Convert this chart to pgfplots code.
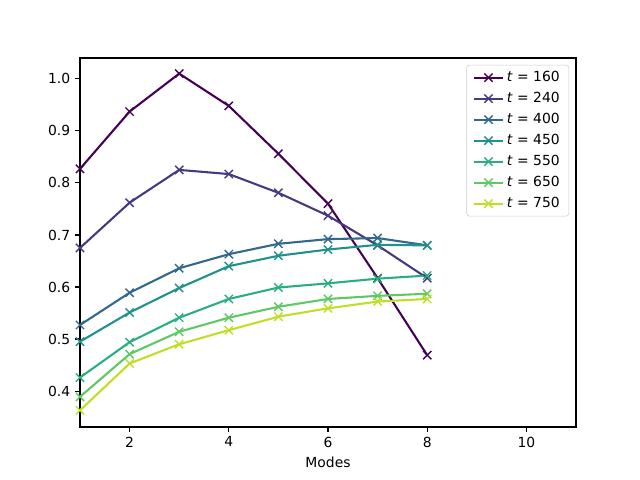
\documentclass[border=0pt]{standalone}
\usepackage{fontspec}
\setmainfont{DejaVu Sans}
\usepackage{pgfplots}
\pgfplotsset{compat=1.18}
\definecolor{c1}{HTML}{440154}
\definecolor{c2}{HTML}{443983}
\definecolor{c3}{HTML}{31688E}
\definecolor{c4}{HTML}{21918C}
\definecolor{c5}{HTML}{29AF7F}
\definecolor{c6}{HTML}{5EC962}
\definecolor{c7}{HTML}{BDDF26}
\begin{document}
\begin{tikzpicture}
\useasboundingbox (-57.6pt,-38.16pt) rectangle (403.2pt,307.44pt);
\begin{axis}[
  at={(0pt,0pt)}, anchor=south west,
  scale only axis, width=357.12pt, height=265.68pt,
  xmin=1, xmax=11, ymin=0.331, ymax=1.040,
  xtick={2,4,6,8,10}, ytick={0.4,0.5,0.6,0.7,0.8,0.9,1.0},
  yticklabel style={/pgf/number format/.cd,fixed,fixed zerofill,precision=1},
  /pgf/number format/assume math mode=true,
  tick align=outside, xtick pos=lower, ytick pos=left,
  major tick length=3.5pt,
  every tick/.style={black, line width=0.8pt},
  axis line style={line width=0.8pt},
  ticklabel style={font=\fontsize{10}{12}\selectfont},
  xlabel={Modes}, xlabel style={font=\fontsize{10}{12}\selectfont, yshift=0pt},
  every axis plot/.append style={line width=1.5pt, mark=x, mark size=4.2pt, mark options={line width=1pt, solid}},
  legend style={at={(1,1)}, anchor=north east, xshift=-5pt, yshift=-5pt,
    draw=black!20, rounded corners=2pt, fill=white, fill opacity=0.8, text opacity=1,
    font=\fontsize{10}{12}\selectfont, row sep=2.2pt, inner ysep=2.5pt, inner xsep=4.5pt,
    nodes={inner sep=2pt}},
  legend cell align=left,
  legend image code/.code={\draw[mark repeat=2,mark phase=2,#1] plot coordinates {(0pt,0pt) (10.5pt,0pt) (21pt,0pt)};},
]
\addplot[c1] coordinates {(1,0.827)(2,0.937)(3,1.010)(4,0.948)(5,0.856)(6,0.760)(7,0.617)(8,0.469)};
\addlegendentry{\textit{t} = 160}
\addplot[c2] coordinates {(1,0.675)(2,0.762)(3,0.825)(4,0.817)(5,0.781)(6,0.737)(7,0.680)(8,0.617)};
\addlegendentry{\textit{t} = 240}
\addplot[c3] coordinates {(1,0.527)(2,0.589)(3,0.636)(4,0.663)(5,0.683)(6,0.692)(7,0.694)(8,0.680)};
\addlegendentry{\textit{t} = 400}
\addplot[c4] coordinates {(1,0.495)(2,0.551)(3,0.598)(4,0.640)(5,0.660)(6,0.672)(7,0.681)(8,0.680)};
\addlegendentry{\textit{t} = 450}
\addplot[c5] coordinates {(1,0.426)(2,0.494)(3,0.541)(4,0.577)(5,0.599)(6,0.607)(7,0.616)(8,0.622)};
\addlegendentry{\textit{t} = 550}
\addplot[c6] coordinates {(1,0.389)(2,0.471)(3,0.514)(4,0.541)(5,0.562)(6,0.577)(7,0.583)(8,0.587)};
\addlegendentry{\textit{t} = 650}
\addplot[c7] coordinates {(1,0.363)(2,0.453)(3,0.490)(4,0.517)(5,0.543)(6,0.559)(7,0.572)(8,0.577)};
\addlegendentry{\textit{t} = 750}
\end{axis}
\end{tikzpicture}
\end{document}
